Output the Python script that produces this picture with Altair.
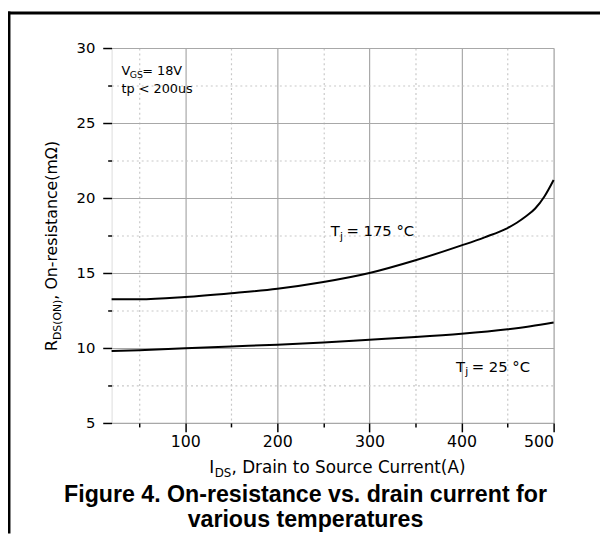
import altair as alt
import pandas as pd

# ---- data ----
ids_175 = [20, 50, 100, 150, 200, 250, 300, 350, 400, 425, 450, 460, 470, 480, 490, 500]
rds_175 = [13.25, 13.25, 13.4, 13.65, 13.95, 14.4, 15.0, 15.85, 16.84, 17.38, 18.0, 18.35,
           18.78, 19.3, 20.1, 21.2]
ids_25 = [20, 50, 100, 150, 200, 250, 300, 350, 400, 450, 475, 500]
rds_25 = [9.8, 9.85, 9.98, 10.1, 10.22, 10.37, 10.55, 10.73, 10.95, 11.25, 11.45, 11.7]
x_tick_values = [50, 100, 150, 200, 250, 300, 350, 400, 450, 500]
y_tick_values = [5, 7.5, 10, 12.5, 15, 17.5, 20, 22.5, 25, 27.5, 30]

df = pd.concat([
    pd.DataFrame({"ids": ids_175, "rds": rds_175, "series": "175"}),
    pd.DataFrame({"ids": ids_25, "rds": rds_25, "series": "25"}),
])

FONT = "DejaVu Sans"
W, H = 448, 380

def minor_cond(test, minor_val, major_val):
    return {"condition": {"test": test, "value": minor_val}, "value": major_val}

xtest = "datum.value % 100 != 0"
ytest = "datum.value % 5 != 0"

x_axis = alt.Axis(
    values=x_tick_values, title=None, domain=False,
    labelExpr="datum.value % 100 == 0 ? datum.label : ''",
    labelFont=FONT, labelFontSize=16, labelColor="black", labelPadding=2,
    tickColor="black", tickWidth=1.5,
    tickSize=minor_cond(xtest, 4, 9),
    grid=True,
    gridColor=minor_cond(xtest, "#c8c8c8", "#a8a8a8"),
    gridDash=minor_cond(xtest, [2, 3], []),
    gridWidth=1.2,
)
y_axis = alt.Axis(
    values=y_tick_values, title=None, domain=False,
    labelExpr="datum.value % 5 == 0 ? datum.label : ''",
    labelFont=FONT, labelFontSize=15, labelColor="black", labelPadding=8,
    tickColor="black", tickWidth=1.5,
    tickSize=minor_cond(ytest, 4, 9),
    grid=True,
    gridColor=minor_cond(ytest, "#c8c8c8", "#a8a8a8"),
    gridDash=minor_cond(ytest, [2, 3], []),
    gridWidth=1.2,
)

lines = alt.Chart(df).mark_line(color="black", strokeWidth=2, interpolate="monotone").encode(
    x=alt.X("ids:Q", scale=alt.Scale(domain=[20, 500], nice=False, zero=False), axis=x_axis),
    y=alt.Y("rds:Q", scale=alt.Scale(domain=[5, 30], nice=False, zero=False), axis=y_axis),
    detail="series:N",
)

one = pd.DataFrame({"k": [0]})

def txt(s, x, y, size, weight="normal", angle=0, align="left", font=FONT):
    return alt.Chart(one).mark_text(
        text=s, fontSize=size, font=font, fontWeight=weight, angle=angle,
        align=align, baseline="alphabetic", color="black",
    ).encode(x=alt.value(x), y=alt.value(y))

texts = [
    # conditions box
    txt("V", 10, 27, 13), txt("GS", 18.5, 30, 9.5), txt("= 18V", 31, 27, 13),
    txt("tp < 200us", 10, 46, 13),
    # curve labels
    txt("T", 222, 191, 15), txt("j", 231.5, 194.5, 11), txt("= 175 °C", 238, 191, 15),
    txt("T", 349, 328, 15), txt("j", 358.5, 331.5, 11), txt("= 25 °C", 365, 328, 15),
    # x axis title
    txt("I", 99, 431, 17), txt("DS", 104.5, 435, 12),
    txt(", Drain to Source Current(A)", 121.5, 431, 17),
    # y axis title (rotated)
    txt("R", -55, 307, 16, angle=270), txt("DS(ON)", -51, 296, 11, angle=270),
    txt(", On-resistance(mΩ)", -55, 255, 16, angle=270),
    # figure caption
    txt("Figure 4. On-resistance vs. drain current for", 196.5, 460, 23.5, weight="bold",
        align="center", font="Liberation Sans"),
    txt("various temperatures", 196.5, 485, 23.5, weight="bold", align="center",
        font="Liberation Sans"),
]

border_left = alt.Chart(one).mark_rule(color="black", strokeWidth=3).encode(
    x=alt.value(-104), x2=alt.value(-104), y=alt.value(-37), y2=alt.value(492))
border_top = alt.Chart(one).mark_rule(color="black", strokeWidth=3).encode(
    x=alt.value(-105), x2=alt.value(495), y=alt.value(-35.5), y2=alt.value(-35.5))

chart = alt.layer(lines, *texts, border_left, border_top).properties(
    width=W, height=H,
    autosize=alt.AutoSizeParams(type="none"),
    padding={"left": 105, "top": 37, "right": 47, "bottom": 112},
).configure_view(stroke="black", strokeWidth=2).configure(background="white")

chart.save("out.html", embed_options={"renderer": "svg", "actions": False})
